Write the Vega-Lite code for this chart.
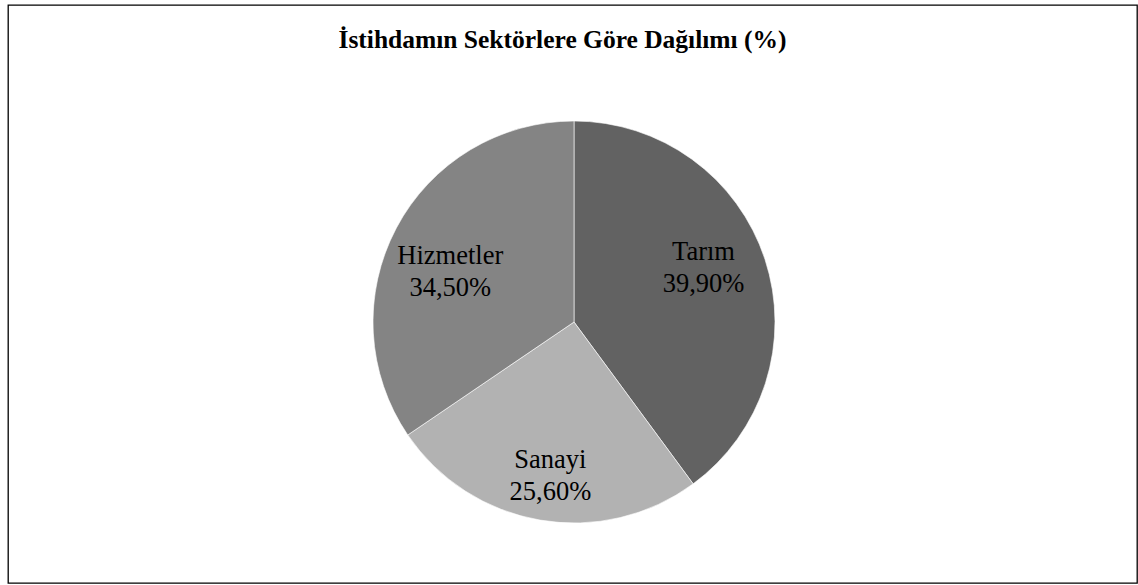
{
  "$schema": "https://vega.github.io/schema/vega-lite/v6.json",
  "autosize": {"type": "fit", "contains": "padding"},
  "width": 1138,
  "height": 585,
  "padding": {"left": 8, "top": 5, "right": 1, "bottom": 2},
  "background": "white",
  "view": {"stroke": "black", "strokeWidth": 1.3},
  "config": {"view": {"stroke": "black", "strokeWidth": 1.3}},
  "title": {
    "text": "İstihdamın Sektörlere Göre Dağılımı (%)",
    "font": "Liberation Serif",
    "fontSize": 25.5,
    "fontWeight": "bold",
    "color": "black",
    "anchor": "middle",
    "dx": -10,
    "offset": -48
  },
  "data": {
    "values": [
      {"sektor": "Tarım", "deger": 39.9, "label": "Tarım\n39,90%", "sira": 1},
      {"sektor": "Sanayi", "deger": 25.6, "label": "Sanayi\n25,60%", "sira": 2},
      {"sektor": "Hizmetler", "deger": 34.5, "label": "Hizmetler\n34,50%", "sira": 3}
    ]
  },
  "encoding": {
    "theta": {"field": "deger", "type": "quantitative", "stack": true},
    "order": {"field": "sira", "type": "quantitative"}
  },
  "layer": [
    {
      "mark": {"type": "arc", "outerRadius": 201, "xOffset": 1.5, "yOffset": 28, "stroke": "#ffffff", "strokeWidth": 0.6},
      "encoding": {
        "color": {
          "field": "sektor",
          "type": "nominal",
          "scale": {"domain": ["Tarım", "Sanayi", "Hizmetler"], "range": ["#626262", "#b2b2b2", "#848484"]},
          "legend": null
        }
      }
    },
    {
      "mark": {"type": "text", "radius": 140, "xOffset": 1.5, "yOffset": 28, "font": "Liberation Serif", "fontSize": 26.5, "lineBreak": "\n", "lineHeight": 32, "align": "center", "baseline": "middle", "color": "black"},
      "encoding": {
        "text": {"field": "label", "type": "nominal"},
        "opacity": {
          "condition": {"test": "datum.sektor === 'Tarım'", "value": 0},
          "value": 1
        }
      }
    },
    {
      "mark": {"type": "text", "radius": 140, "xOffset": -2, "yOffset": 2, "font": "Liberation Serif", "fontSize": 26.5, "lineBreak": "\n", "lineHeight": 32, "align": "center", "baseline": "middle", "color": "black"},
      "encoding": {
        "text": {"field": "label", "type": "nominal"},
        "opacity": {
          "condition": {"test": "datum.sektor === 'Tarım'", "value": 1},
          "value": 0
        }
      }
    }
  ]
}
